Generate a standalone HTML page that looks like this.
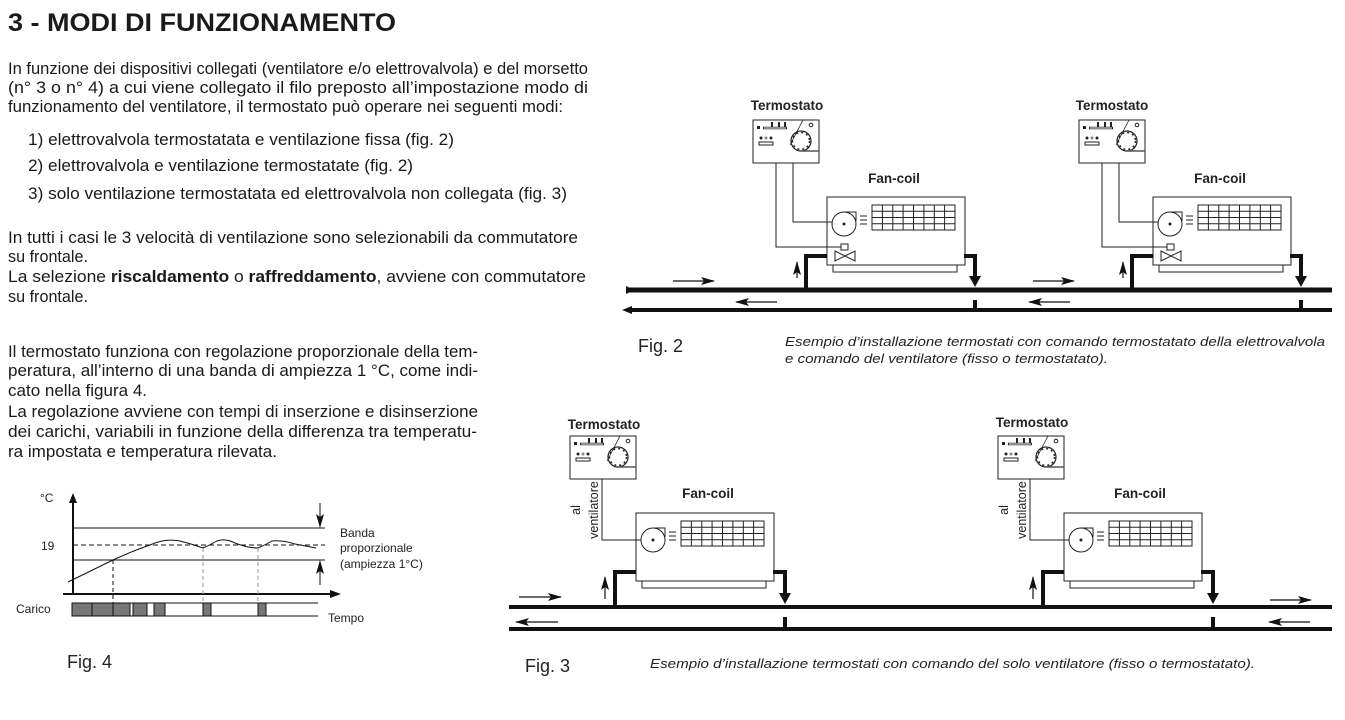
<!DOCTYPE html>
<html><head><meta charset="utf-8"><style>
body{margin:0;width:1345px;height:720px;background:#fff;overflow:hidden;position:relative;font-family:"Liberation Sans",Arial,sans-serif;color:#1a1a1a}
svg{position:absolute;left:0;top:0}
</style></head><body>
<svg width="1345" height="720" viewBox="0 0 1345 720" font-family="Liberation Sans,Arial,sans-serif">
<defs>
<g id="th">
<rect x="0" y="0" width="66" height="43" fill="#fff" stroke="#222" stroke-width="1"/>
<line x1="10" y1="8" x2="34" y2="8" stroke="#222" stroke-width="2.5"/>
<line x1="11" y1="8" x2="33" y2="8" stroke="#fff" stroke-width="1"/>
<rect x="4" y="6" width="3" height="3" fill="#222"/>
<rect x="18" y="2" width="2" height="5" fill="#222"/><rect x="25" y="2" width="2" height="5" fill="#222"/><rect x="31" y="2" width="2" height="5" fill="#222"/>
<circle cx="48" cy="21" r="10" fill="none" stroke="#222" stroke-width="1.2"/>
<circle cx="48" cy="21" r="8.5" fill="none" stroke="#222" stroke-width="1.5" stroke-dasharray="2 3"/>
<line x1="37" y1="25" x2="50" y2="0" stroke="#222" stroke-width="0.8"/>
<path d="M46 31 H66" stroke="#555" stroke-width="1.5"/>
<circle cx="58" cy="5" r="1.8" fill="none" stroke="#222"/>
<rect x="6" y="22" width="14" height="3" fill="none" stroke="#222" stroke-width="1"/>
<circle cx="8" cy="18" r="1.5" fill="#222"/><circle cx="13" cy="18" r="1.5" fill="#888"/><circle cx="18" cy="18" r="1.5" fill="#222"/>
</g>
<g id="fc">
<rect x="0" y="0" width="138" height="68" fill="#fff" stroke="#222"/>
<rect x="6" y="68" width="124" height="7" fill="#fff" stroke="#222"/>
<circle cx="17" cy="27" r="12" fill="none" stroke="#222"/>
<circle cx="17" cy="27" r="1.5" fill="#222"/>
<path d="M17 15 H29 V24" fill="none" stroke="#222"/>
<path d="M33 19 H40 M33 23 H40 M33 27 H40" stroke="#222"/>
<g stroke="#222" fill="none"><rect x="45" y="8" width="83" height="25"/>
<path d="M45 14.3H128M45 20.5H128M45 26.8H128M55.4 8V33M65.8 8V33M76.1 8V33M86.5 8V33M96.9 8V33M107.3 8V33M117.6 8V33"/></g>
</g>
<marker id="ah" markerWidth="14" markerHeight="8" refX="13" refY="4" orient="auto" markerUnits="userSpaceOnUse"><path d="M0 0L14 4L0 8L3 4z" fill="#111"/></marker>
</defs>

<text x="8" y="31" font-size="25" font-weight="bold" fill="#1a1a1a" textLength="388" lengthAdjust="spacingAndGlyphs">3 - MODI DI FUNZIONAMENTO</text>
<g font-size="17" fill="#1a1a1a">
<text x="8" y="74" textLength="580" lengthAdjust="spacingAndGlyphs">In funzione dei dispositivi collegati (ventilatore e/o elettrovalvola) e del morsetto</text>
<text x="8" y="93" textLength="580" lengthAdjust="spacingAndGlyphs">(n° 3 o n° 4) a cui viene collegato il filo preposto all’impostazione modo di</text>
<text x="8" y="112" textLength="555" lengthAdjust="spacingAndGlyphs">funzionamento del ventilatore, il termostato può operare nei seguenti modi:</text>
<text x="28" y="145" textLength="426" lengthAdjust="spacingAndGlyphs">1) elettrovalvola termostatata e ventilazione fissa (fig. 2)</text>
<text x="28" y="171" textLength="385" lengthAdjust="spacingAndGlyphs">2) elettrovalvola e ventilazione termostatate (fig. 2)</text>
<text x="28" y="199" textLength="539" lengthAdjust="spacingAndGlyphs">3) solo ventilazione termostatata ed elettrovalvola non collegata (fig. 3)</text>
<text x="8" y="243" textLength="570" lengthAdjust="spacingAndGlyphs">In tutti i casi le 3 velocità di ventilazione sono selezionabili da commutatore</text>
<text x="8" y="262" textLength="80" lengthAdjust="spacingAndGlyphs">su frontale.</text>
<text x="8" y="282" textLength="578" lengthAdjust="spacingAndGlyphs">La selezione <tspan font-weight="bold">riscaldamento</tspan> o <tspan font-weight="bold">raffreddamento</tspan>, avviene  con commutatore</text>
<text x="8" y="302" textLength="80" lengthAdjust="spacingAndGlyphs">su frontale.</text>
<text x="8" y="357" textLength="470" lengthAdjust="spacingAndGlyphs">Il termostato funziona con regolazione proporzionale della tem-</text>
<text x="8" y="376" textLength="470" lengthAdjust="spacingAndGlyphs">peratura, all’interno di una banda di ampiezza 1 °C, come indi-</text>
<text x="8" y="396" textLength="139" lengthAdjust="spacingAndGlyphs">cato nella figura 4.</text>
<text x="8" y="417" textLength="470" lengthAdjust="spacingAndGlyphs">La regolazione avviene con tempi di inserzione e disinserzione</text>
<text x="8" y="437" textLength="469" lengthAdjust="spacingAndGlyphs">dei carichi, variabili in funzione della differenza tra temperatu-</text>
<text x="8" y="457" textLength="269" lengthAdjust="spacingAndGlyphs">ra impostata e temperatura rilevata.</text>
</g>

<!-- Fig 2 -->
<g font-weight="bold" font-size="13.5" text-anchor="middle" fill="#222">
<text x="787" y="110">Termostato</text><text x="1112" y="110">Termostato</text>
<text x="894" y="183">Fan-coil</text><text x="1220" y="183">Fan-coil</text>
</g>
<g id="u2">
<use href="#th" x="753" y="120"/>
<use href="#fc" x="827" y="197"/>
<path d="M776 163V247H842M793 163V222H832" fill="none" stroke="#222"/>
<rect x="841" y="244" width="7" height="6" fill="#fff" stroke="#222"/>
<path d="M835 251L855 261V251L835 261Z" fill="#fff" stroke="#222"/>
<path d="M806 291V256H827" fill="none" stroke="#111" stroke-width="4"/>
<path d="M964 256H975V278" fill="none" stroke="#111" stroke-width="4"/>
<path d="M969 276L975 287L981 276Z" fill="#111"/>
<line x1="797" y1="278" x2="797" y2="262" stroke="#111" stroke-width="1.2" marker-end="url(#ah)"/>
<rect x="973" y="300" width="4" height="10" fill="#111"/>
</g>
<use href="#u2" x="326" y="0"/>
<line x1="628" y1="290" x2="1332" y2="290" stroke="#111" stroke-width="5"/>
<line x1="628" y1="310" x2="1332" y2="310" stroke="#111" stroke-width="4"/>
<path d="M626 286L634 290L626 294Z" fill="#111"/>
<path d="M622 310L632 306L632 314Z" fill="#111"/>
<line x1="673" y1="281" x2="714" y2="281" stroke="#111" stroke-width="1.2" marker-end="url(#ah)"/>
<line x1="777" y1="302" x2="736" y2="302" stroke="#111" stroke-width="1.2" marker-end="url(#ah)"/>
<line x1="1033" y1="281" x2="1074" y2="281" stroke="#111" stroke-width="1.2" marker-end="url(#ah)"/>
<line x1="1070" y1="302" x2="1029" y2="302" stroke="#111" stroke-width="1.2" marker-end="url(#ah)"/>
<text x="638" y="352" font-size="18" fill="#222">Fig. 2</text>
<text x="785" y="346" font-size="13" font-style="italic" fill="#222" textLength="540" lengthAdjust="spacingAndGlyphs">Esempio d’installazione termostati con comando termostatato della elettrovalvola</text>
<text x="785" y="363" font-size="13" font-style="italic" fill="#222" textLength="323" lengthAdjust="spacingAndGlyphs">e comando del ventilatore (fisso o termostatato).</text>

<!-- Fig 3 -->
<g font-weight="bold" font-size="13.5" text-anchor="middle" fill="#222">
<text x="604" y="429">Termostato</text><text x="1032" y="427">Termostato</text>
<text x="708" y="498">Fan-coil</text><text x="1140" y="498">Fan-coil</text>
</g>
<g id="u3">
<use href="#th" x="570" y="436"/>
<use href="#fc" x="636" y="513"/>
<path d="M602 479V540H641" fill="none" stroke="#222"/>
<path d="M615 607V572H636" fill="none" stroke="#111" stroke-width="4"/>
<path d="M773 572H785V595" fill="none" stroke="#111" stroke-width="4"/>
<path d="M779 593L785 604L791 593Z" fill="#111"/>
<line x1="605" y1="599" x2="605" y2="577" stroke="#111" stroke-width="1.2" marker-end="url(#ah)"/>
<rect x="783" y="617" width="4" height="11" fill="#111"/>
<text transform="translate(580,510) rotate(-90)" font-size="12.5" text-anchor="middle" fill="#222">al</text>
<text transform="translate(598,510) rotate(-90)" font-size="12.5" text-anchor="middle" fill="#222">ventilatore</text>
</g>
<use href="#u3" x="428" y="0"/>
<line x1="509" y1="607" x2="1332" y2="607" stroke="#111" stroke-width="4"/>
<line x1="509" y1="629" x2="1332" y2="629" stroke="#111" stroke-width="4"/>
<line x1="519" y1="597" x2="561" y2="597" stroke="#111" stroke-width="1.2" marker-end="url(#ah)"/>
<line x1="558" y1="622" x2="516" y2="622" stroke="#111" stroke-width="1.2" marker-end="url(#ah)"/>
<line x1="1270" y1="600" x2="1311" y2="600" stroke="#111" stroke-width="1.2" marker-end="url(#ah)"/>
<line x1="1310" y1="622" x2="1269" y2="622" stroke="#111" stroke-width="1.2" marker-end="url(#ah)"/>
<text x="525" y="672" font-size="18" fill="#222">Fig. 3</text>
<text x="650" y="668" font-size="13" font-style="italic" fill="#222" textLength="605" lengthAdjust="spacingAndGlyphs">Esempio d’installazione termostati con comando del  solo ventilatore (fisso o termostatato).</text>

<!-- Fig 4 -->
<g stroke="#111" fill="none">
<line x1="73" y1="594" x2="73" y2="500" stroke-width="2"/>
<path d="M69 503L73 493L77 503Z" fill="#111" stroke="none"/>
<line x1="63" y1="594" x2="333" y2="594" stroke-width="2"/>
<path d="M330 590L341 594L330 598Z" fill="#111" stroke="none"/>
<line x1="73" y1="528" x2="325" y2="528"/>
<line x1="73" y1="545" x2="325" y2="545" stroke-dasharray="5 3"/>
<line x1="73" y1="560" x2="325" y2="560"/>
<path d="M68 582L113 560Q135 550 150 545Q165 538 180 541Q192 544 203 548Q210 545 217 541Q225 538 235 543Q248 548 258 548Q265 545 272 541Q282 540 295 544L316 548"/>
<line x1="113" y1="560" x2="113" y2="603" stroke-dasharray="4 3"/>
<line x1="203" y1="548" x2="203" y2="603" stroke="#999" stroke-dasharray="4 3"/>
<line x1="258" y1="548" x2="258" y2="603" stroke="#999" stroke-dasharray="4 3"/>
<line x1="320" y1="503" x2="320" y2="527" marker-end="url(#ah)"/>
<line x1="320" y1="585" x2="320" y2="561" marker-end="url(#ah)"/>
<line x1="72" y1="603" x2="318" y2="603"/>
<line x1="72" y1="616" x2="318" y2="616"/>
</g>
<g fill="#777" stroke="#111" stroke-width="1">
<rect x="72" y="603" width="20" height="13"/><rect x="92" y="603" width="21" height="13"/><rect x="113" y="603" width="17" height="13"/>
<rect x="133" y="603" width="14" height="13"/><rect x="154" y="603" width="11" height="13"/><rect x="203" y="603" width="8" height="13"/><rect x="258" y="603" width="8" height="13"/>
</g>
<g font-size="12" fill="#222">
<text x="40" y="502">°C</text><text x="41" y="550">19</text><text x="16" y="613">Carico</text><text x="328" y="622">Tempo</text>
<text x="340" y="537">Banda</text><text x="340" y="552">proporzionale</text><text x="340" y="568">(ampiezza 1°C)</text>
</g>
<text x="67" y="668" font-size="18" fill="#222">Fig. 4</text>
</svg>
</body></html>
